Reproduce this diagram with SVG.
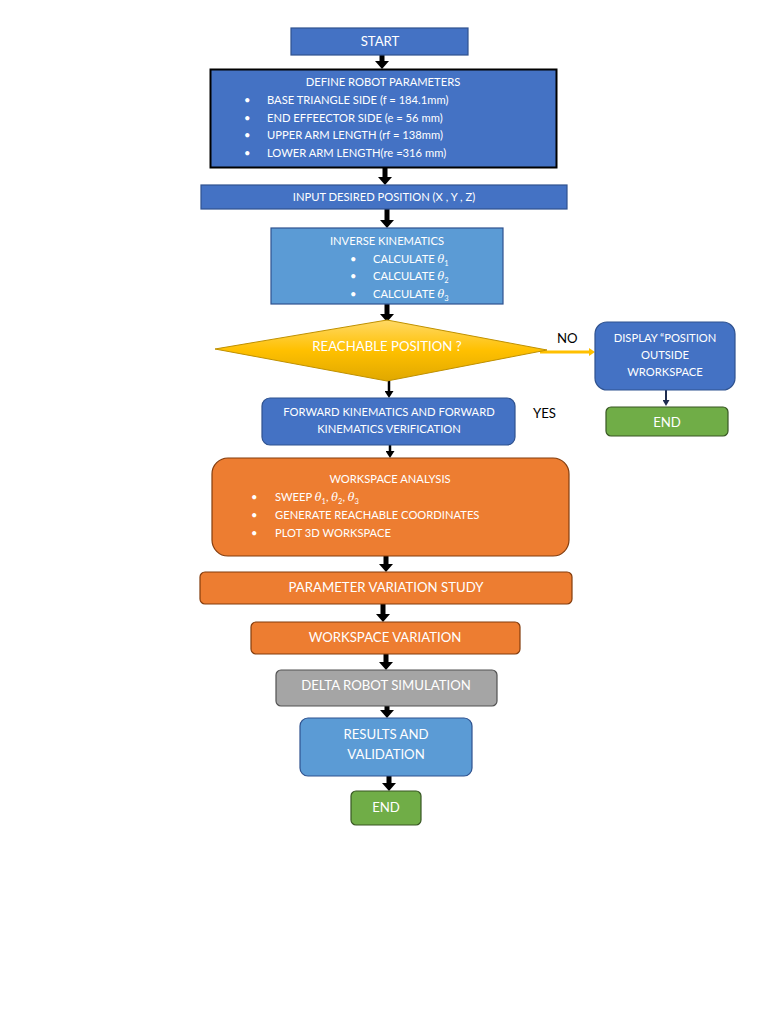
<svg xmlns="http://www.w3.org/2000/svg" width="768" height="1024" viewBox="0 0 768 1024">
<defs>
<marker id="ah" markerUnits="userSpaceOnUse" markerWidth="8" markerHeight="14" refX="0" refY="7" orient="auto" viewBox="0 0 8 14"><path d="M0,0 L8,7 L0,14 z" fill="#000"/></marker>
<marker id="ahs" markerUnits="userSpaceOnUse" markerWidth="7" markerHeight="9" refX="0" refY="4.5" orient="auto" viewBox="0 0 7 9"><path d="M0,0 L7,4.5 L0,9 z" fill="#000"/></marker>
<marker id="ahn" markerUnits="userSpaceOnUse" markerWidth="6" markerHeight="7" refX="0" refY="3.5" orient="auto" viewBox="0 0 6 7"><path d="M0,0 L6,3.5 L0,7 z" fill="#1F2D4F"/></marker>
<marker id="aho" markerUnits="userSpaceOnUse" markerWidth="6" markerHeight="8" refX="0" refY="4" orient="auto" viewBox="0 0 6 8"><path d="M0,0 L6,4 L0,8 z" fill="#FFC000"/></marker>
<linearGradient id="gold" x1="0" y1="0" x2="0" y2="1"><stop offset="0" stop-color="#FFD966"/><stop offset="0.5" stop-color="#FFC000"/><stop offset="1" stop-color="#E0A800"/></linearGradient>
</defs>
<style>
text{font-family:"Lato","Open Sans","Liberation Sans",sans-serif;fill:#fff;}
.t{font-size:11.2px;}
.m{font-size:13.2px;}
.c{text-anchor:middle;}
.blue{fill:#4472C4;stroke:#2F528F;stroke-width:1.2;}
.lblue{fill:#5B9BD5;stroke:#2F528F;stroke-width:1.2;}
.orange{fill:#ED7D31;stroke:#843C0C;stroke-width:1.2;}
.gray{fill:#A5A5A5;stroke:#525252;stroke-width:1.2;}
.green{fill:#70AD47;stroke:#385723;stroke-width:1.2;}
.k{fill:#000;}
.th{font-family:"DejaVu Serif","Liberation Serif",serif;font-style:italic;}
.sub{font-size:7.5px;}
.a{stroke:#000;stroke-width:5;fill:none;}
.as{stroke:#000;stroke-width:2.5;fill:none;}
</style>
<g id="connectors">
<line class="a" x1="382" y1="55" x2="382" y2="61" marker-end="url(#ah)"/>
<line class="a" x1="385" y1="167" x2="385" y2="177" marker-end="url(#ah)"/>
<line class="a" x1="387" y1="209" x2="387" y2="220" marker-end="url(#ah)"/>
<line class="a" x1="387" y1="304" x2="387" y2="314" marker-end="url(#ah)"/>
<line class="as" x1="389" y1="381" x2="389" y2="391" marker-end="url(#ahs)"/>
<line class="as" x1="390" y1="445" x2="390" y2="451" marker-end="url(#ahs)"/>
<line class="a" x1="386" y1="556" x2="386" y2="564" marker-end="url(#ah)"/>
<line class="a" x1="383" y1="604" x2="383" y2="614" marker-end="url(#ah)"/>
<line class="a" x1="386" y1="654" x2="386" y2="662" marker-end="url(#ah)"/>
<line class="a" x1="387" y1="706" x2="387" y2="710" marker-end="url(#ah)"/>
<line class="a" x1="389" y1="776" x2="389" y2="783" marker-end="url(#ah)"/>
<line x1="666" y1="390" x2="666" y2="400" stroke="#1F2D4F" stroke-width="2" marker-end="url(#ahn)"/>
<line x1="540" y1="352" x2="589" y2="352" stroke="#FFC000" stroke-width="3" marker-end="url(#aho)"/>
<text class="k m" x="557" y="343">NO</text>
<text class="k m" x="533" y="418">YES</text>
</g>
<g id="start">
<rect class="blue" x="291" y="28" width="177" height="27"/>
<text class="m c" x="380" y="46">START</text>
</g>
<g id="define">
<rect x="210.5" y="69.5" width="346" height="98" fill="#4472C4" stroke="#000" stroke-width="2"/>
<text class="t c" x="383" y="86">DEFINE ROBOT PARAMETERS</text>
<g class="t">
<text x="244" y="104">•</text><text x="267" y="104">BASE TRIANGLE SIDE (f = 184.1mm)</text>
<text x="244" y="122">•</text><text x="267" y="122">END EFFEECTOR SIDE (e = 56 mm)</text>
<text x="244" y="139">•</text><text x="267" y="139">UPPER ARM LENGTH (rf = 138mm)</text>
<text x="244" y="157">•</text><text x="267" y="157">LOWER ARM LENGTH(re =316 mm)</text>
</g>
</g>
<g id="input">
<rect class="blue" x="201" y="185" width="366" height="24"/>
<text class="t c" x="384" y="201">INPUT DESIRED POSITION (X , Y , Z)</text>
</g>
<g id="inverse">
<rect class="lblue" x="271" y="228" width="232" height="76"/>
<text class="t c" x="387" y="245">INVERSE KINEMATICS</text>
<g class="t">
<text x="350" y="263">•</text><text x="373" y="263">CALCULATE <tspan class="th">θ</tspan><tspan class="sub" dy="3">1</tspan></text>
<text x="350" y="280">•</text><text x="373" y="280">CALCULATE <tspan class="th">θ</tspan><tspan class="sub" dy="3">2</tspan></text>
<text x="350" y="298">•</text><text x="373" y="298">CALCULATE <tspan class="th">θ</tspan><tspan class="sub" dy="3">3</tspan></text>
</g>
</g>
<g id="reachable">
<polygon points="215,349 387,320 547,350 387,381" fill="url(#gold)" stroke="#BF9000" stroke-width="1"/>
<text class="m c" x="387" y="351">REACHABLE POSITION ?</text>
</g>
<g id="display">
<rect class="blue" x="595" y="322" width="140" height="68" rx="12"/>
<text class="t c" x="665" y="342">DISPLAY “POSITION</text>
<text class="t c" x="665" y="359">OUTSIDE</text>
<text class="t c" x="665" y="376">WRORKSPACE</text>
</g>
<g id="end-right">
<rect class="green" x="606" y="407" width="122" height="29" rx="5"/>
<text class="m c" x="667" y="427">END</text>
</g>
<g id="forward">
<rect class="blue" x="262" y="398" width="253" height="47" rx="8"/>
<text class="t c" x="389" y="416">FORWARD KINEMATICS AND FORWARD</text>
<text class="t c" x="389" y="433">KINEMATICS VERIFICATION</text>
</g>
<g id="workspace-analysis">
<rect class="orange" x="212" y="458" width="357" height="98" rx="16"/>
<text class="t c" x="390" y="483">WORKSPACE ANALYSIS</text>
<g class="t">
<text x="251" y="501">•</text><text x="275" y="501">SWEEP <tspan class="th">θ</tspan><tspan class="sub" dy="3">1</tspan><tspan dy="-3">, </tspan><tspan class="th">θ</tspan><tspan class="sub" dy="3">2</tspan><tspan dy="-3">, </tspan><tspan class="th">θ</tspan><tspan class="sub" dy="3">3</tspan></text>
<text x="251" y="519">•</text><text x="275" y="519">GENERATE REACHABLE COORDINATES</text>
<text x="251" y="537">•</text><text x="275" y="537">PLOT 3D WORKSPACE</text>
</g>
</g>
<g id="parameter">
<rect class="orange" x="200" y="572" width="372" height="32" rx="5"/>
<text class="m c" x="386" y="592">PARAMETER VARIATION STUDY</text>
</g>
<g id="variation">
<rect class="orange" x="251" y="622" width="269" height="32" rx="5"/>
<text class="m c" x="385" y="642">WORKSPACE VARIATION</text>
</g>
<g id="simulation">
<rect class="gray" x="276" y="670" width="221" height="36" rx="5"/>
<text class="m c" x="386" y="690">DELTA ROBOT SIMULATION</text>
</g>
<g id="results">
<rect class="lblue" x="300" y="718" width="172" height="58" rx="8"/>
<text class="m c" x="386" y="739">RESULTS AND</text>
<text class="m c" x="386" y="759">VALIDATION</text>
</g>
<g id="end">
<rect class="green" x="351" y="791" width="70" height="34" rx="5"/>
<text class="m c" x="386" y="812">END</text>
</g>
</svg>
